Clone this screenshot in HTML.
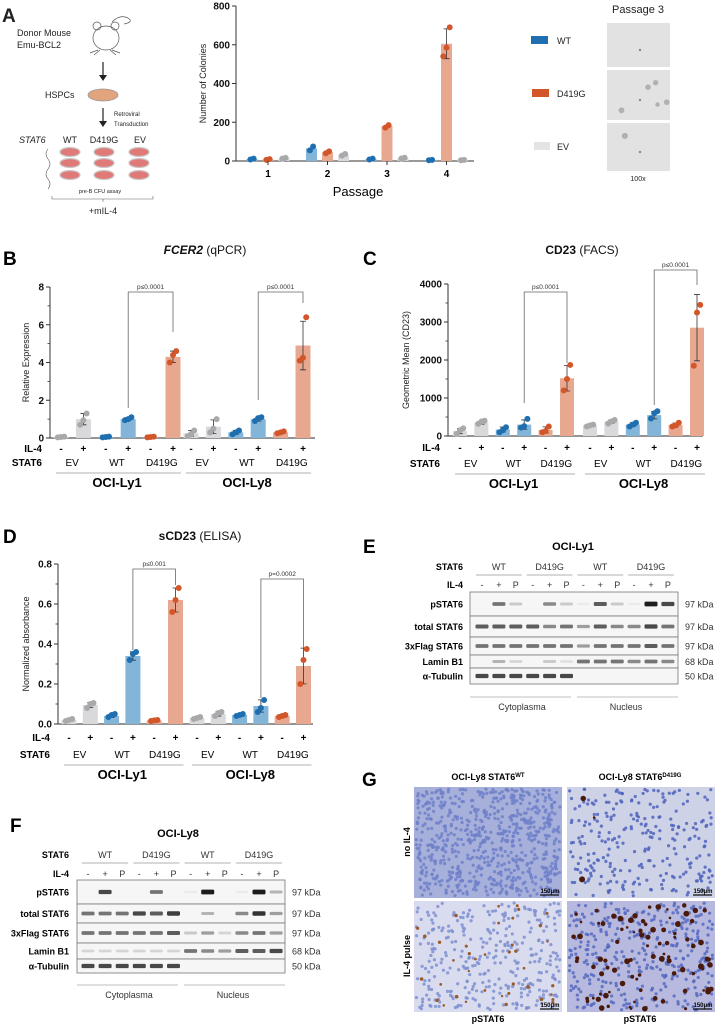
<!DOCTYPE html>
<html><head><meta charset="utf-8"><style>
html,body{margin:0;padding:0;background:#fff}
svg{display:block;font-family:"Liberation Sans",Arial,sans-serif}
</style></head><body>
<svg id="fig" width="719" height="1024" viewBox="0 0 719 1024" xmlns="http://www.w3.org/2000/svg">
<g id="schematic" font-size="9" fill="#222">
  <text x="2" y="22" font-size="19" font-weight="bold">A</text>
  <text x="17" y="36">Donor Mouse</text>
  <text x="17" y="48">Emu-BCL2</text>
  <g fill="none" stroke="#555" stroke-width="0.7">
    <ellipse cx="106" cy="38" rx="13" ry="12"/><circle cx="97" cy="26" r="4"/><circle cx="115" cy="26" r="4"/>
    <path d="M112 22 Q120 14 128 18 Q134 22 124 24"/><path d="M98 50 l-8 3 M100 50 l-6 5 M112 50 l8 3 M110 50 l6 5"/>
  </g>
  <line x1="103" y1="62" x2="103" y2="78" stroke="#222" stroke-width="1.2"/><path d="M99 75 L103 81 L107 75 Z" fill="#222"/>
  <text x="45" y="98">HSPCs</text>
  <ellipse cx="103" cy="95" rx="15" ry="6" fill="#e2a47c" stroke="#999" stroke-width="0.8"/>
  <line x1="103" y1="108" x2="103" y2="124" stroke="#222" stroke-width="1.2"/><path d="M99 121 L103 127 L107 121 Z" fill="#222"/>
  <text x="114" y="116" font-size="6">Retroviral</text>
  <text x="114" y="126" font-size="6">Transduction</text>
  <text x="19" y="143" font-style="italic">STAT6</text>
  <text x="70" y="143" text-anchor="middle">WT</text>
  <text x="104" y="143" text-anchor="middle">D419G</text>
  <text x="140" y="143" text-anchor="middle">EV</text>
  <g id="dishes"></g>
  <path d="M48 149 q-4 5 0 10 q4 5 0 10 q-4 5 0 10 q4 5 0 10" fill="none" stroke="#666" stroke-width="0.6"/>
  <text x="100" y="193" font-size="5.5" text-anchor="middle">pre-B CFU assay</text>
  <path d="M52 196 v3 h101 v-3 M103 199 v3" fill="none" stroke="#666" stroke-width="0.6"/>
  <text x="103" y="214" text-anchor="middle">+mIL-4</text>
</g>
<g id="chartA"></g>
<g id="legendA" font-size="9" fill="#222">
  <rect x="531" y="36" width="17" height="8" fill="#1f6fb0"/>
  <text x="557" y="44">WT</text>
  <rect x="532" y="89" width="17" height="8" fill="#d2562a"/>
  <text x="557" y="97">D419G</text>
  <rect x="534" y="142" width="16" height="8" fill="#e4e4e6"/>
  <text x="557" y="150">EV</text>
  <text x="638" y="13" font-size="11" text-anchor="middle">Passage 3</text>
  <g id="micro"></g>
  <text x="638" y="181" font-size="7" text-anchor="middle">100x</text>
</g>
<g id="chartB"></g>
<g id="chartC"></g>
<g id="chartD"></g>
<g id="blotE"></g>
<g id="blotF"></g>
<g id="panelG"></g>
</svg>
<script>
// ---------- data ----------
const aPassages = ['1','2','3','4'];
const aWT = [10, 65, 10, 5];
const aD419G = [8, 45, 180, 605];
const aEV = [15, 32, 15, 5];
const aWTpts = [[8,12],[55,75],[8,12],[4,6]];
const aDpts = [[6,10],[40,50],[172,185],[540,585,690]];
const aEVpts = [[12,16],[28,36],[13,17],[4,6]];
const aYTicks = [0,200,400,600,800];

const condLabels = ['EV','EV','WT','WT','D419G','D419G'];
const il4Labels = ['-','+','-','+','-','+'];
const cellLines = ['OCI-Ly1','OCI-Ly8'];

const bLy1 = [0.05, 1.0, 0.05, 1.0, 0.05, 4.3];
const bLy8 = [0.25, 0.6, 0.3, 1.0, 0.3, 4.9];
const bLy1Pts = [[0.03,0.05,0.07],[0.7,0.95,1.3],[0.03,0.05,0.07],[0.95,1.0,1.1],[0.03,0.05,0.07],[4.0,4.4,4.6]];
const bLy8Pts = [[0.1,0.2,0.4],[0.3,0.5,1.0],[0.2,0.3,0.4],[0.9,1.05,1.1],[0.25,0.3,0.35],[4.1,4.25,6.4]];
const bYTicks = [0,2,4,6,8];

const cLy1 = [130, 350, 170, 300, 160, 1520];
const cLy8 = [280, 380, 300, 550, 290, 2850];
const cLy1Pts = [[60,150,200],[320,380,400],[100,150,230],[220,260,450],[100,130,250],[1200,1500,1870]];
const cLy8Pts = [[250,280,300],[330,380,420],[250,300,350],[460,600,650],[250,280,350],[1850,3250,3450]];
const cYTicks = [0,1000,2000,3000,4000];

const dLy1 = [0.02, 0.095, 0.04, 0.34, 0.018, 0.62];
const dLy8 = [0.03, 0.05, 0.045, 0.09, 0.04, 0.29];
const dLy1Pts = [[0.015,0.02,0.025],[0.08,0.1,0.105],[0.035,0.045,0.05],[0.32,0.35,0.36],[0.015,0.018,0.02],[0.56,0.62,0.68]];
const dLy8Pts = [[0.025,0.03,0.035],[0.04,0.055,0.06],[0.04,0.045,0.05],[0.06,0.08,0.12],[0.035,0.04,0.045],[0.2,0.32,0.375]];
const dYTicks = [0,0.2,0.4,0.6,0.8];

const blotRows = ['pSTAT6','total STAT6','3xFlag STAT6','Lamin B1','α-Tubulin'];
const blotKDa = ['97 kDa','97 kDa','97 kDa','68 kDa','50 kDa'];
const blotGroups = ['WT','D419G','WT','D419G'];
const laneIL4 = ['-','+','P','-','+','P','-','+','P','-','+','P'];
const eBands = [
 [0,.6,.2,0,.5,.2,.05,.7,.2,.05,1,.8],
 [.7,.7,.7,.7,.5,.6,.4,.7,.5,.5,.8,.6],
 [.6,.6,.6,.6,.6,.6,.4,.6,.6,.6,.7,.6],
 [0,.3,.15,0,.2,.1,.6,.6,.6,.5,.6,.5],
 [.8,.8,.8,.8,.8,.8,0,0,0,0,0,0]];
const fBands = [
 [0,.8,0,0,.6,0,.05,1,0,.05,1,.3],
 [.6,.6,.6,.8,.7,.85,0,.3,0,.5,.9,.4],
 [.6,.6,.6,.6,.6,.7,.2,.4,.15,.5,.6,.4],
 [.15,.15,.15,.15,.15,.15,.6,.5,.4,.7,.7,.8],
 [.8,.8,.8,.8,.8,.8,0,0,0,0,0,0]];

// ---------- helpers ----------
const NS='http://www.w3.org/2000/svg';
function mk(parent, tag, attrs, text){
  const el=document.createElementNS(NS,tag);
  for(const k in attrs) el.setAttribute(k,attrs[k]);
  if(text!==undefined) el.textContent=text;
  parent.appendChild(el); return el;
}
const PT={WT:'#1f6fb0',D419G:'#d2562a',EV:'#a9a9ab'};
const BAR={WT:'#82b5d8',D419G:'#e8a890',EV:'#d9d9db'};
function sd(a){const m=a.reduce((s,v)=>s+v,0)/a.length;return Math.sqrt(a.reduce((s,v)=>s+(v-m)*(v-m),0)/Math.max(1,a.length-1));}

function drawBar(g, x, w, val, pts, cond, y, name){
  const r=mk(g,'rect',{x:x-w/2,y:y(val),width:w,height:Math.max(0,y(0)-y(val)),fill:BAR[cond]});
  
  
  const s=sd(pts);
  if(pts.length>2){
    const e=mk(g,'path',{d:`M${x} ${y(val+s)} V${y(Math.max(0,val-s))} M${x-3} ${y(val+s)} h6 M${x-3} ${y(Math.max(0,val-s))} h6`,stroke:'#333','stroke-width':0.8,fill:'none'});
    
    
  }
  pts.forEach((p,i)=>{
    const c=mk(g,'circle',{cx:x+(i-(pts.length-1)/2)*3.2,cy:y(p),r:3,fill:PT[cond]});
    
    
  });
}

function yAxis(g, ax, y, ticks, fmt, minor, title, tx){
  mk(g,'line',{x1:ax,x2:ax,y1:y(ticks[ticks.length-1]),y2:y(0),stroke:'#333','stroke-width':1});
  ticks.forEach(t=>{
    mk(g,'line',{x1:ax-4,x2:ax,y1:y(t),y2:y(t),stroke:'#333','stroke-width':1});
    const l=mk(g,'text',{x:ax-6,y:y(t)+3.5,'text-anchor':'end','font-size':10,'font-weight':'bold',fill:'#111'},fmt(t));
    
    
  });
  if(minor){for(let i=0;i<ticks.length-1;i++){const m=(ticks[i]+ticks[i+1])/2;mk(g,'line',{x1:ax-2.5,x2:ax,y1:y(m),y2:y(m),stroke:'#333','stroke-width':0.8});}}
  const ymid=(y(0)+y(ticks[ticks.length-1]))/2;
  const t=mk(g,'text',{x:tx,y:ymid,'text-anchor':'middle','font-size':9,fill:'#222',transform:`rotate(-90 ${tx} ${ymid})`},title);
  
  
}

// ---------- Chart A ----------
(function(){
  const g=document.getElementById('chartA');
  const y=v=>161-v*(155/800);
  const gx=i=>268+i*59.5;
  yAxis(g,236,y,aYTicks,t=>String(t),false,'Number of Colonies',206);
  mk(g,'line',{x1:236,x2:474,y1:y(0),y2:y(0),stroke:'#333','stroke-width':1});
  aPassages.forEach((p,i)=>{
    const cx=gx(i);
    drawBar(g,cx-16,11,aWT[i],aWTpts[i],'WT',y,'bar-wt-p'+p);
    drawBar(g,cx,11,aD419G[i],aDpts[i],'D419G',y,'bar-d419g-p'+p);
    drawBar(g,cx+16,11,aEV[i],aEVpts[i],'EV',y,'bar-ev-p'+p);
    mk(g,'line',{x1:cx,x2:cx,y1:y(0),y2:y(0)+4,stroke:'#333'});
    const l=mk(g,'text',{x:cx,y:177,'text-anchor':'middle','font-size':10,'font-weight':'bold'},p);
    
    
  });
  const t=mk(g,'text',{x:358,y:196,'text-anchor':'middle','font-size':13},'Passage');
  
  
})();

// ---------- grouped charts B/C/D ----------
function groupChart(id, o){
  const g=document.getElementById(id);
  const y=v=>o.y0-v*o.k;
  const tt=mk(g,'text',{x:o.titleX,y:o.titleY,'text-anchor':'middle','font-size':12,fill:'#111'});
  
  
  mk(tt,'tspan',{'font-weight':'bold','font-style':o.italic?'italic':'normal'},o.t1);
  mk(tt,'tspan',{},' '+o.t2);
  const pl=mk(g,'text',{x:o.lx,y:o.ly,'font-size':19,'font-weight':'bold'},o.letter);
  
  
  yAxis(g,o.ax,y,o.ticks,o.fmt,o.minor,o.ytitle,o.ytx);
  mk(g,'line',{x1:o.ax,x2:o.axEnd,y1:o.y0,y2:o.y0,stroke:'#555','stroke-width':1.2});
  [o.ly1,o.ly8].forEach((vals,gi)=>{
    const pts=gi?o.ly8p:o.ly1p;
    const xb=i=>o.x0+gi*o.goff+i*o.step;
    vals.forEach((v,i)=>{
      drawBar(g,xb(i),o.bw,v,pts[i],condLabels[i],y,'bar-'+cellLines[gi].toLowerCase()+'-'+condLabels[i].toLowerCase()+'-'+(i%2?'il4':'ctrl'));
      const s=mk(g,'text',{x:xb(i),y:o.rowIL,'text-anchor':'middle','font-size':10,'font-weight':'bold'},il4Labels[i]);
      
      
    });
    for(let p=0;p<3;p++){
      const cx=(xb(2*p)+xb(2*p+1))/2;
      const s=mk(g,'text',{x:cx,y:o.rowST,'text-anchor':'middle','font-size':10},condLabels[2*p]);
      
      
    }
    mk(g,'line',{x1:xb(0)-5,x2:xb(5)+8,y1:o.rowST+7,y2:o.rowST+7,stroke:'#999','stroke-width':0.8});
    const c=mk(g,'text',{x:(xb(0)+xb(5))/2,y:o.rowST+21,'text-anchor':'middle','font-size':13,'font-weight':'bold'},cellLines[gi]);
    
    
    const br=o.br[gi];
    const x1=xb(3),x2=xb(5);
    const b=mk(g,'path',{d:`M${x1} ${br[1]} V${br[0]} H${x2} V${br[2]}`,fill:'none',stroke:'#666','stroke-width':0.8});
    
    
    const bl=mk(g,'text',{x:(x1+x2)/2,y:br[0]-3,'text-anchor':'middle','font-size':6.5,fill:'#333'},br[3]);
    
    
  });
  const a=mk(g,'text',{x:o.ax-8,y:o.rowIL,'text-anchor':'end','font-size':10,'font-weight':'bold'},'IL-4');
  
  
  const b=mk(g,'text',{x:o.ax-8,y:o.rowST,'text-anchor':'end','font-size':10,'font-weight':'bold'},'STAT6');
  
  
}
groupChart('chartB',{letter:'B',lx:3,ly:265,titleX:205,titleY:254,t1:'FCER2',t2:'(qPCR)',italic:true,
  ax:50,axEnd:315,y0:438,k:151/8,ticks:bYTicks,fmt:t=>String(t),minor:true,ytitle:'Relative Expression',ytx:29,
  x0:61,goff:130,step:22.4,bw:15,ly1:bLy1,ly8:bLy8,ly1p:bLy1Pts,ly8p:bLy8Pts,rowIL:452,rowST:466,
  br:[[292,408,332,'p≤0.0001'],[292,400,303,'p≤0.0001']]});
groupChart('chartC',{letter:'C',lx:363,ly:265,titleX:582,titleY:254,t1:'CD23',t2:'(FACS)',italic:false,
  ax:448,axEnd:703,y0:436,k:152/4000,ticks:cYTicks,fmt:t=>String(t),minor:true,ytitle:'Geometric Mean (CD23)',ytx:409,
  x0:460,goff:130,step:21.4,bw:14,ly1:cLy1,ly8:cLy8,ly1p:cLy1Pts,ly8p:cLy8Pts,rowIL:451,rowST:467,
  br:[[292,403,363,'p≤0.0001'],[270,405,285,'p≤0.0001']]});
groupChart('chartD',{letter:'D',lx:3,ly:543,titleX:200,titleY:540,t1:'sCD23',t2:'(ELISA)',italic:false,
  ax:58,axEnd:313,y0:724,k:160/0.8,ticks:dYTicks,fmt:t=>t.toFixed(1),minor:true,ytitle:'Normalized absorbance',ytx:29,
  x0:69,goff:128,step:21.3,bw:15,ly1:dLy1,ly8:dLy8,ly1p:dLy1Pts,ly8p:dLy8Pts,rowIL:741,rowST:758,
  br:[[569,650,585,'p≤0.001'],[579,698,648,'p=0.0002']]});

// ---------- dishes ----------
(function(){
  const g=document.getElementById('dishes');
  [70,104,139].forEach(cx=>[152,163,175].forEach(cy=>{
    const e=mk(g,'ellipse',{cx:cx,cy:cy,rx:10,ry:4.5,fill:'#e07a78',stroke:'#c9c9c9','stroke-width':1.2});
    
    
  }));
})();

// seeded texture generator (decorative only)
let seed=12345;
function rnd(){seed=(seed*1103515245+12345)%2147483648;return seed/2147483648;}

// ---------- micrographs A ----------
(function(){
  const g=document.getElementById('micro');
  [[23,67,0],[70,120,5],[123,171,1]].forEach((r,ri)=>{
    const im=mk(g,'rect',{x:607,y:r[0],width:63,height:r[1]-r[0],fill:'#e2e2e2'});
    
    
    for(let i=0;i<r[2];i++) mk(g,'circle',{cx:612+rnd()*55,cy:r[0]+5+rnd()*(r[1]-r[0]-10),r:1.5+rnd()*2,fill:'#a5a5a5',opacity:0.8});
    mk(g,'circle',{cx:640,cy:(r[0]+r[1])/2+5,r:1.2,fill:'#888'});
  });
})();

// ---------- blots ----------
function blot(id,o,bands){
  const g=document.getElementById(id);
  const pl=mk(g,'text',{x:o.letterX,y:o.letterY,'font-size':19,'font-weight':'bold'},o.letter);
  
  
  const t=mk(g,'text',{x:o.titleX,y:o.titleY,'text-anchor':'middle','font-size':11,'font-weight':'bold'},o.title);
  
  
  const lx=i=>o.lane0+i*o.lstep;
  mk(g,'text',{x:o.labR,y:o.stY,'text-anchor':'end','font-size':9,'font-weight':'bold'},'STAT6');
  mk(g,'text',{x:o.labR,y:o.ilY,'text-anchor':'end','font-size':9,'font-weight':'bold'},'IL-4');
  blotGroups.forEach((gr,gi)=>{
    const a=lx(gi*3)-6,b=lx(gi*3+2)+6;
    mk(g,'line',{x1:a,x2:b,y1:o.stY+5,y2:o.stY+5,stroke:'#999','stroke-width':0.7});
    const s=mk(g,'text',{x:(a+b)/2,y:o.stY,'text-anchor':'middle','font-size':9,fill:'#333'},gr);
    
    
  });
  laneIL4.forEach((l,i)=>mk(g,'text',{x:lx(i),y:o.ilY,'text-anchor':'middle','font-size':9,fill:'#333'},l));
  blotRows.forEach((r,ri)=>{
    const y0=o.rows[ri],y1=o.rows[ri+1];
    const box=mk(g,'rect',{x:o.bx0,y:y0,width:o.bx1-o.bx0,height:y1-y0,fill:'#f6f6f6',stroke:'#777','stroke-width':0.8});
    
    
    const cy=(y0+y1)/2;
    bands[ri].forEach((v,i)=>{ if(v>0) mk(g,'rect',{x:lx(i)-6.5,y:cy-1.2-v*1.2,width:13,height:2.4+v*2.4,rx:1.2,fill:'#111',opacity:Math.min(1,v*0.95)}); });
    const lab=mk(g,'text',{x:o.labR,y:cy+3.5,'text-anchor':'end','font-size':9,'font-weight':'bold'},r);
    
    
    const kd=mk(g,'text',{x:o.bx1+7,y:cy+3.5,'font-size':9,fill:'#333'},blotKDa[ri]);
    
    
  });
  const mid=(o.bx0+o.bx1)/2;
  mk(g,'line',{x1:o.bx0,x2:mid-3,y1:o.fracY,y2:o.fracY,stroke:'#aaa','stroke-width':0.7});
  mk(g,'line',{x1:mid+3,x2:o.bx1,y1:o.fracY,y2:o.fracY,stroke:'#aaa','stroke-width':0.7});
  const c=mk(g,'text',{x:(o.bx0+mid)/2,y:o.fracY+13,'text-anchor':'middle','font-size':9,fill:'#333'},'Cytoplasma');
  
  
  const n=mk(g,'text',{x:(mid+o.bx1)/2,y:o.fracY+13,'text-anchor':'middle','font-size':9,fill:'#333'},'Nucleus');
  
  
}
blot('blotE',{letter:'E',letterX:363,letterY:553,title:'OCI-Ly1',titleX:573,titleY:550,labR:463,stY:570,ilY:588,
  lane0:482,lstep:16.9,bx0:470,bx1:678,rows:[592,616,637,655,668,684],fracY:697},eBands);
blot('blotF',{letter:'F',letterX:10,letterY:832,title:'OCI-Ly8',titleX:178,titleY:837,labR:69,stY:858,ilY:877,
  lane0:88,lstep:17.1,bx0:77,bx1:285,rows:[880,904,923,943,959,973],fracY:985},fBands);

// ---------- Panel G ----------
(function(){
  const g=document.getElementById('panelG');
  const pl=mk(g,'text',{x:362,y:786,'font-size':19,'font-weight':'bold'},'G');
  
  
  [['WT',488],['D419G',640]].forEach(([s,cx])=>{
    const t=mk(g,'text',{x:cx,y:780,'text-anchor':'middle','font-size':9,'font-weight':'bold'});
    
    
    mk(t,'tspan',{},'OCI-Ly8 STAT6');
    mk(t,'tspan',{'font-size':6,dy:-3},s);
  });
  const cols=[[414,562],[567,715]], rows=[[787,898],[901,1012]];
  const cfg=[
    {bg:'#a7b0da',n:700,cell:'#6f80c9',brown:0},
    {bg:'#cdd2e6',n:260,cell:'#4f63bd',brown:3},
    {bg:'#d9dcee',n:330,cell:'#7e8fd0',brown:40},
    {bg:'#b7bade',n:360,cell:'#5569c0',brown:90}];
  let k=0;
  rows.forEach((r,ri)=>cols.forEach((c,ci)=>{
    const f=cfg[k++];
    const im=mk(g,'rect',{x:c[0],y:r[0],width:c[1]-c[0],height:r[1]-r[0],fill:f.bg});
    
    
    for(let i=0;i<f.n;i++) mk(g,'circle',{cx:c[0]+2+rnd()*(c[1]-c[0]-4),cy:r[0]+2+rnd()*(r[1]-r[0]-4),r:1.6,fill:f.cell,opacity:0.85});
    for(let i=0;i<f.brown;i++) mk(g,'circle',{cx:c[0]+3+rnd()*(c[1]-c[0]-6),cy:r[0]+3+rnd()*(r[1]-r[0]-6),r:1.2+rnd()*(ci?1.8:0.6),fill:ci?'#4a1a0c':'#9a5a2a'});
    mk(g,'line',{x1:c[1]-22,x2:c[1]-3,y1:r[1]-3,y2:r[1]-3,stroke:'#111','stroke-width':1.2});
    const sb=mk(g,'text',{x:c[1]-12,y:r[1]-5,'text-anchor':'middle','font-size':6,'font-weight':'bold'},'150μm');
    
    
  }));
  [['no IL-4',842],['IL-4 pulse',956]].forEach(([s,cy])=>{
    const t=mk(g,'text',{x:410,y:cy,'text-anchor':'middle','font-size':9,'font-weight':'bold',transform:`rotate(-90 410 ${cy})`},s);
    
    
  });
  [488,640].forEach(cx=>{
    const t=mk(g,'text',{x:cx,y:1022,'text-anchor':'middle','font-size':9,'font-weight':'bold'},'pSTAT6');
    
    
  });
})();
</script>
</body></html>
